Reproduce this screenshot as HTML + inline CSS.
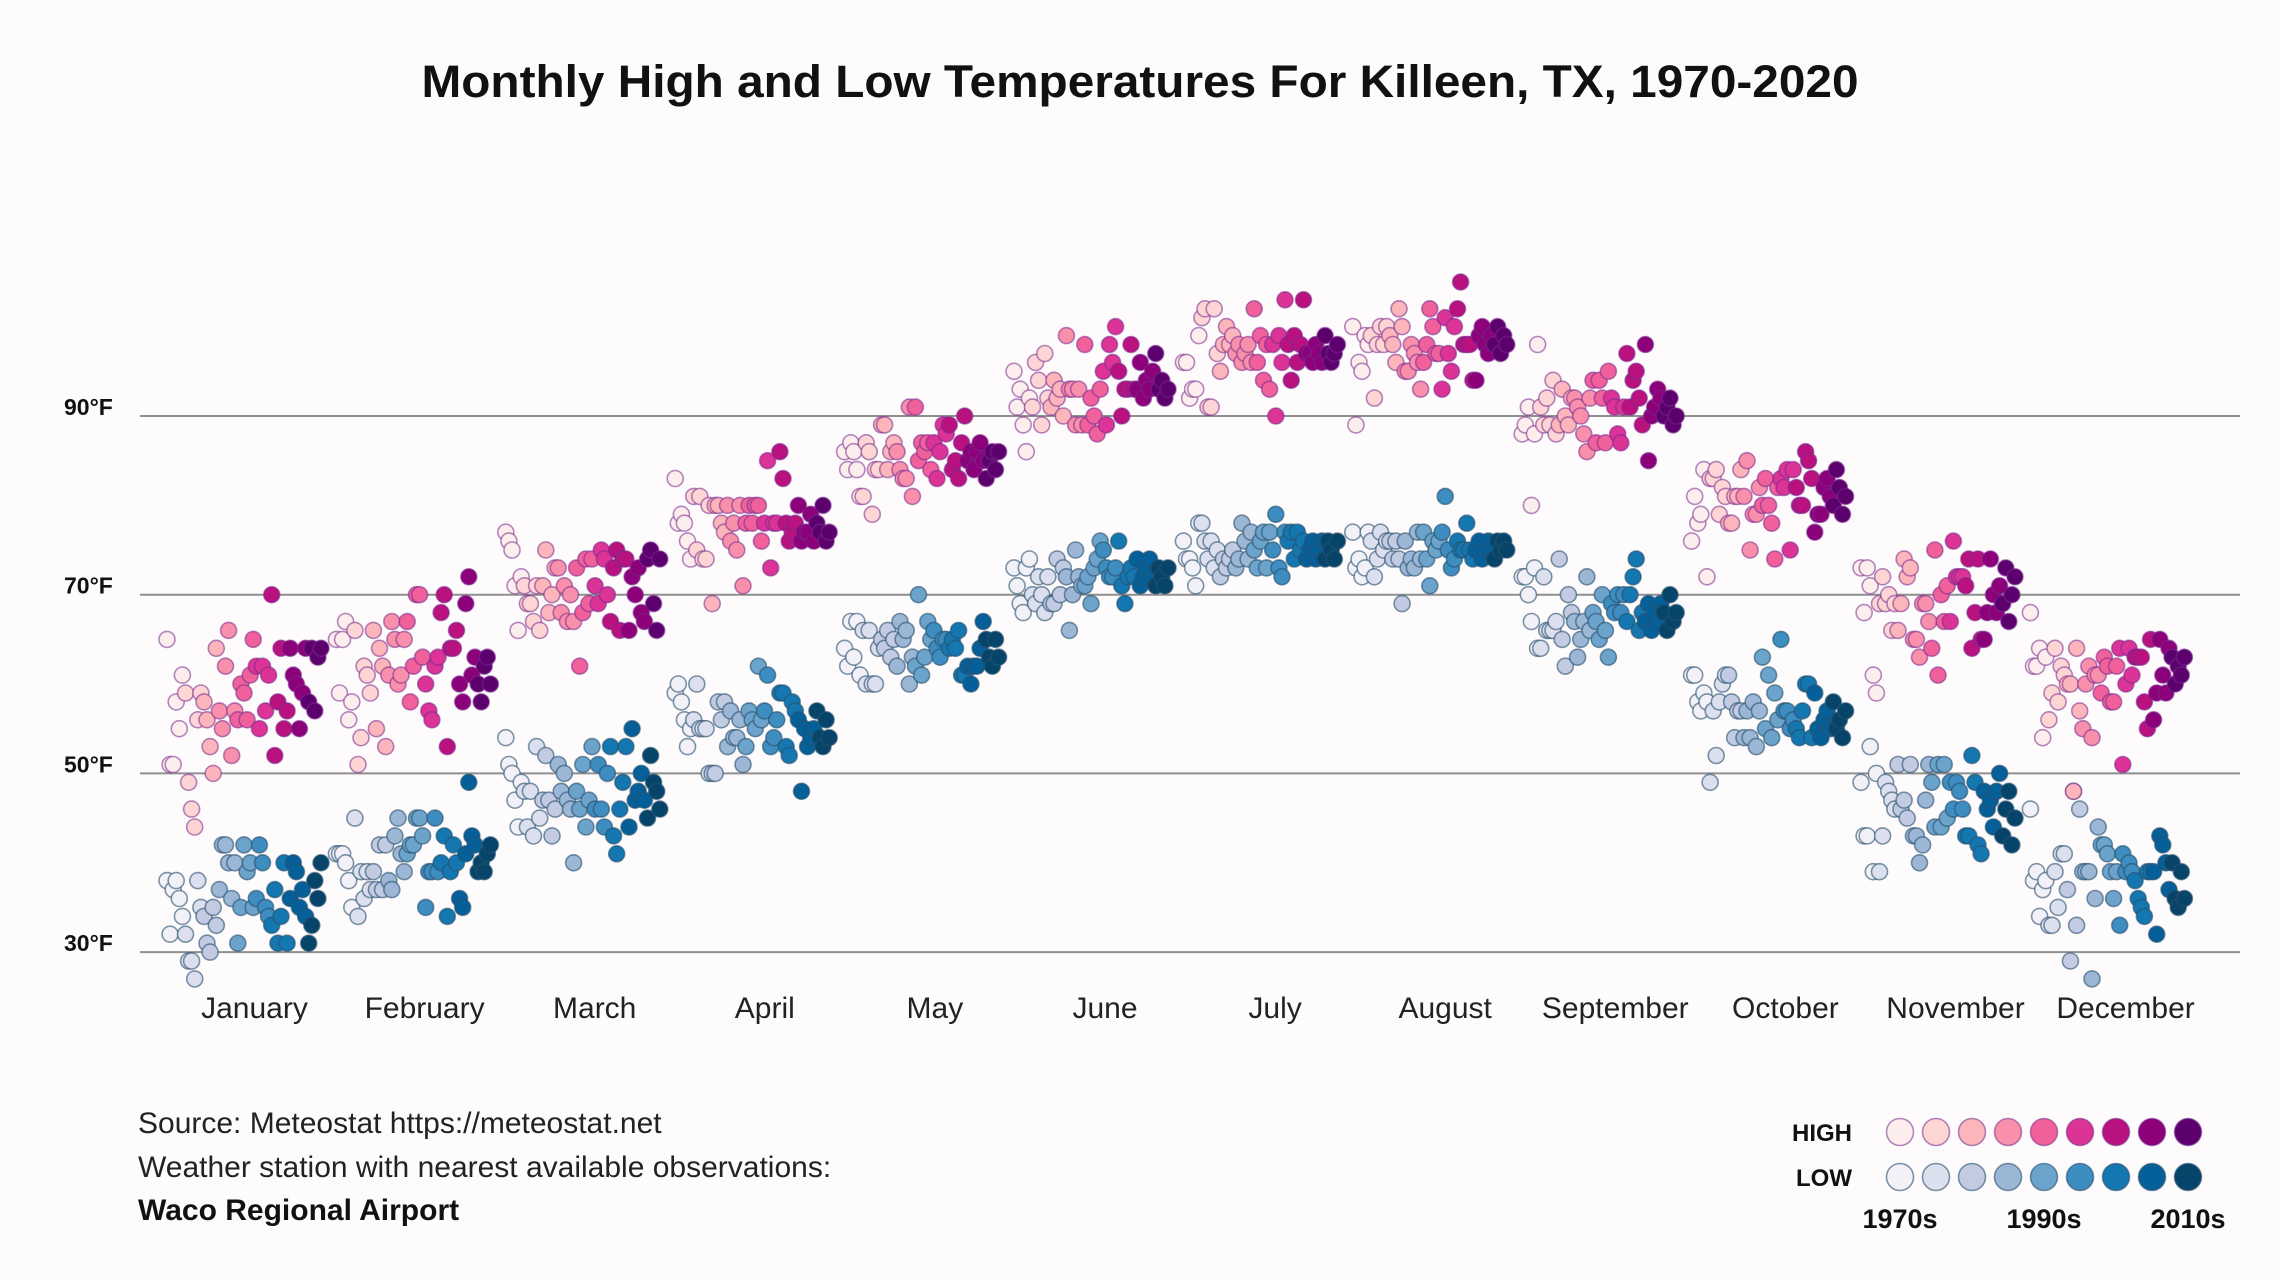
<!DOCTYPE html>
<html><head><meta charset="utf-8"><title>Monthly High and Low Temperatures For Killeen, TX</title>
<style>
html,body{margin:0;padding:0;background:#fdfbfc;}
svg{display:block;font-family:"Liberation Sans",sans-serif;}
</style></head>
<body>
<svg id="chart" width="2280" height="1280" viewBox="0 0 2280 1280" xmlns="http://www.w3.org/2000/svg">
<rect width="2280" height="1280" fill="#fdfbfc"/>
<text x="1140" y="97" text-anchor="middle" font-size="45" font-weight="bold" fill="#111" textLength="1437" lengthAdjust="spacingAndGlyphs">Monthly High and Low Temperatures For Killeen, TX, 1970-2020</text>
<g id="grid"></g>
<g id="dots"></g>
<g id="xlabels"></g>
<g>
<text x="138" y="1133" font-size="30" fill="#222">Source: Meteostat https://meteostat.net</text>
<text x="138" y="1177" font-size="30" fill="#222">Weather station with nearest available observations:</text>
<text x="138" y="1220" font-size="30" font-weight="bold" fill="#111">Waco Regional Airport</text>
</g>
<g id="legend">
<text x="1852" y="1141" text-anchor="end" font-size="24" font-weight="bold" fill="#111">HIGH</text>
<text x="1852" y="1186" text-anchor="end" font-size="24" font-weight="bold" fill="#111">LOW</text>
<text x="1900" y="1228" text-anchor="middle" font-size="27" font-weight="bold" fill="#111">1970s</text>
<text x="2044" y="1228" text-anchor="middle" font-size="27" font-weight="bold" fill="#111">1990s</text>
<text x="2188" y="1228" text-anchor="middle" font-size="27" font-weight="bold" fill="#111">2010s</text>
</g>
</svg>
<script>
const months = ["January","February","March","April","May","June","July","August","September","October","November","December"];
const yTicks = [30,50,70,90];
const yTickLabels = ["30°F","50°F","70°F","90°F"];
const firstYear = 1970;
const highJan=[65,51,51,58,55,61,59,49,46,44,56,59,58,56,53,50,64,57,55,62,66,52,57,56,60,59,56,61,65,62,55,62,57,61,70,52,58,64,55,57,64,61,60,55,59,64,58,64,57,63,64];
const lowJan=[38,32,37,38,36,34,32,29,29,27,38,35,34,31,30,35,33,37,42,42,40,36,40,31,35,42,39,40,35,36,42,40,35,34,33,37,31,34,40,31,36,40,39,35,37,34,31,33,38,36,40];
const highFeb=[65,59,65,67,56,58,66,51,54,62,61,59,66,55,64,62,53,61,67,65,60,61,65,67,58,62,70,70,63,60,57,56,62,63,68,70,53,64,64,66,60,58,69,72,61,63,60,58,62,63,60];
const lowFeb=[41,41,41,40,38,35,45,34,39,36,39,37,39,37,42,37,42,38,37,43,45,41,39,41,42,42,45,45,43,35,39,39,45,39,40,43,34,39,42,40,36,35,41,49,43,42,39,40,39,41,42];
const highMar=[77,76,75,71,66,72,71,69,69,67,71,66,71,75,68,70,73,73,68,71,67,70,67,73,62,68,74,69,74,71,69,75,74,70,67,73,75,66,74,74,66,72,70,73,68,67,74,75,69,66,74];
const lowMar=[54,51,50,47,44,49,48,44,48,43,53,45,47,52,47,43,46,51,48,50,47,46,40,48,46,51,44,47,53,46,51,46,44,50,53,43,41,46,49,53,44,55,47,48,50,47,45,52,49,48,46];
const highApr=[83,78,79,78,76,74,81,75,81,74,74,80,69,80,80,78,77,80,76,78,75,80,71,78,80,78,80,80,76,78,85,73,78,78,86,83,78,76,77,78,80,76,77,77,79,76,78,77,80,76,77];
const lowApr=[59,60,58,56,53,55,56,60,55,55,55,50,50,50,58,56,58,53,57,54,54,56,51,53,57,56,55,62,56,57,61,53,54,56,59,59,53,52,58,57,56,48,55,53,54,55,57,54,53,56,54];
const highMay=[86,84,87,86,84,81,81,87,86,79,84,84,89,89,84,86,87,86,84,83,83,91,81,91,85,87,86,87,84,87,83,86,89,88,89,84,85,83,87,90,85,86,84,86,87,85,83,85,86,84,86];
const lowMay=[64,62,67,63,67,61,66,60,66,60,60,64,65,64,66,63,65,62,67,65,66,60,63,62,70,61,63,67,65,66,64,63,65,65,64,65,64,66,61,61,62,60,62,62,64,67,65,63,62,65,63];
const highJun=[95,91,93,89,86,92,91,96,94,89,97,92,91,94,92,93,90,99,93,93,89,93,89,98,89,92,90,88,93,95,89,98,96,100,95,90,93,93,98,93,93,96,92,94,93,95,97,93,94,92,93];
const lowJun=[73,71,69,68,73,74,70,69,72,70,68,72,69,69,74,70,73,72,66,70,75,72,71,71,72,69,73,74,76,75,73,72,72,73,76,71,69,72,73,72,74,71,72,73,74,72,71,73,72,71,73];
const highJul=[96,96,92,93,93,99,101,102,91,91,102,97,95,98,100,98,99,97,98,96,97,98,96,102,96,99,94,98,93,98,90,99,96,103,98,94,99,96,98,103,97,97,96,98,97,96,99,97,96,97,98];
const lowJul=[76,74,74,73,71,78,78,76,74,76,73,75,72,74,73,74,75,73,74,78,76,74,77,75,73,76,77,73,77,75,79,73,72,77,76,77,74,77,75,76,74,75,76,74,75,76,74,76,75,74,76];
const highAug=[100,89,96,95,99,98,99,92,98,100,98,100,99,98,96,102,100,95,95,98,97,96,93,96,98,102,100,97,97,93,101,97,95,100,102,105,98,98,98,94,94,99,100,98,97,99,98,100,97,99,98];
const lowAug=[77,73,74,72,73,77,76,72,74,77,75,76,76,74,76,74,69,76,73,74,73,77,74,77,74,71,76,75,76,77,81,75,73,74,76,75,75,78,75,74,75,76,74,75,76,75,74,76,75,76,75];
const highSep=[88,89,91,80,88,98,91,89,92,89,94,88,89,93,90,89,92,92,91,90,88,86,92,94,87,94,92,87,95,92,91,88,87,91,97,91,94,95,92,89,98,85,90,91,93,92,90,91,92,89,90];
const lowSep=[72,72,70,67,73,64,64,72,66,66,66,67,74,65,62,70,68,67,63,65,67,72,66,68,67,65,70,66,63,69,68,70,68,70,67,70,72,74,66,68,67,69,66,68,67,69,68,66,70,67,68];
const highOct=[76,81,78,79,84,72,83,83,84,79,82,81,78,78,81,81,84,81,85,75,79,79,82,80,83,80,78,74,82,83,82,84,75,84,82,80,80,86,85,83,77,79,79,82,83,81,80,84,82,79,81];
const lowOct=[61,61,58,57,59,58,49,57,52,58,60,61,61,58,54,57,57,54,57,54,58,53,57,63,55,61,54,59,56,65,57,57,55,56,55,54,57,60,60,54,59,55,54,56,57,55,58,55,56,54,57];
const highNov=[73,68,73,71,61,59,69,72,69,70,66,69,66,69,74,72,73,65,65,63,69,69,67,64,75,61,70,67,71,67,76,72,72,72,71,74,64,68,74,65,65,68,74,70,68,71,69,73,67,70,72];
const lowNov=[49,43,43,53,39,50,39,43,49,48,47,46,51,46,47,45,51,43,43,40,42,47,51,49,44,51,44,51,45,49,46,49,48,46,43,43,52,49,42,41,48,46,47,44,48,50,43,46,48,42,45];
const highDec=[68,62,62,64,54,63,56,59,64,58,62,61,60,60,48,64,57,55,60,62,54,61,61,59,63,62,58,58,62,64,51,60,64,61,63,63,63,58,55,65,56,59,65,61,59,64,63,60,62,61,63];
const lowDec=[46,38,39,34,37,38,33,33,39,35,41,41,37,29,48,33,46,39,39,39,27,36,44,42,42,41,39,36,39,33,41,39,40,39,38,36,35,34,39,39,39,32,43,42,40,37,40,36,35,39,36];
const highSeries=[highJan,highFeb,highMar,highApr,highMay,highJun,highJul,highAug,highSep,highOct,highNov,highDec];
const lowSeries=[lowJan,lowFeb,lowMar,lowApr,lowMay,lowJun,lowJul,lowAug,lowSep,lowOct,lowNov,lowDec];

const highColors=["#fdeeee","#fdd5d4","#fbb5bb","#f88fab","#f0619b","#db3496","#b9127f","#8c0079","#5c006d"];
const lowColors=["#f3f1f8","#dcdfee","#c3cbe3","#9cb6d6","#6ca3cb","#3d8dc0","#1477b0","#05609a","#064569"];

const NS="http://www.w3.org/2000/svg";
function yScale(t){return 416+(90-t)*8.935;}
function xScale(m,yr){return 167+m*169.4+(yr-firstYear)*3.08;}
function colorBin(yr){return Math.min(8,Math.floor((yr-firstYear)*9/51));}

const grid=document.getElementById('grid');
yTicks.forEach((t,i)=>{
  const ln=document.createElementNS(NS,'line');
  ln.setAttribute('x1',140);ln.setAttribute('x2',2240);
  ln.setAttribute('y1',yScale(t));ln.setAttribute('y2',yScale(t));
  ln.setAttribute('stroke','#8f8f8f');ln.setAttribute('stroke-width','2');
  
  
  grid.appendChild(ln);
  const tx=document.createElementNS(NS,'text');
  tx.setAttribute('x',64);tx.setAttribute('y',yScale(t)-1);
  tx.setAttribute('font-size','23');tx.setAttribute('font-weight','bold');tx.setAttribute('fill','#111');
  tx.textContent=yTickLabels[i];
  
  
  grid.appendChild(tx);
});

const xl=document.getElementById('xlabels');
months.forEach((m,i)=>{
  const tx=document.createElementNS(NS,'text');
  tx.setAttribute('x',254.5+i*170.1);tx.setAttribute('y',1018);
  tx.setAttribute('text-anchor','middle');tx.setAttribute('font-size','30');tx.setAttribute('fill','#222');
  tx.textContent=m;
  
  
  xl.appendChild(tx);
});

const dots=document.getElementById('dots');
function drawSeries(series,colors,stroke,kind){
  series.forEach((vals,m)=>{
    vals.forEach((v,i)=>{
      const yr=firstYear+i;
      const c=document.createElementNS(NS,'circle');
      c.setAttribute('cx',xScale(m,yr).toFixed(1));
      c.setAttribute('cy',yScale(v).toFixed(1));
      c.setAttribute('r','8');
      c.setAttribute('fill',colors[colorBin(yr)]);
      c.setAttribute('stroke',stroke);
      c.setAttribute('stroke-width','1.6');
      
      
      dots.appendChild(c);
    });
  });
}
drawSeries(lowSeries,lowColors,'rgba(40,80,110,0.6)','low');
drawSeries(highSeries,highColors,'rgba(120,40,140,0.55)','high');

const lg=document.getElementById('legend');
for(let i=0;i<9;i++){
  const h=document.createElementNS(NS,'circle');
  h.setAttribute('cx',1900+i*36);h.setAttribute('cy',1132);h.setAttribute('r',13.5);
  h.setAttribute('fill',highColors[i]);h.setAttribute('stroke','rgba(120,40,140,0.55)');h.setAttribute('stroke-width','1.6');
  
  
  lg.appendChild(h);
  const l=document.createElementNS(NS,'circle');
  l.setAttribute('cx',1900+i*36);l.setAttribute('cy',1177);l.setAttribute('r',13.5);
  l.setAttribute('fill',lowColors[i]);l.setAttribute('stroke','rgba(40,80,110,0.6)');l.setAttribute('stroke-width','1.6');
  
  
  lg.appendChild(l);
}
</script>
</body></html>
